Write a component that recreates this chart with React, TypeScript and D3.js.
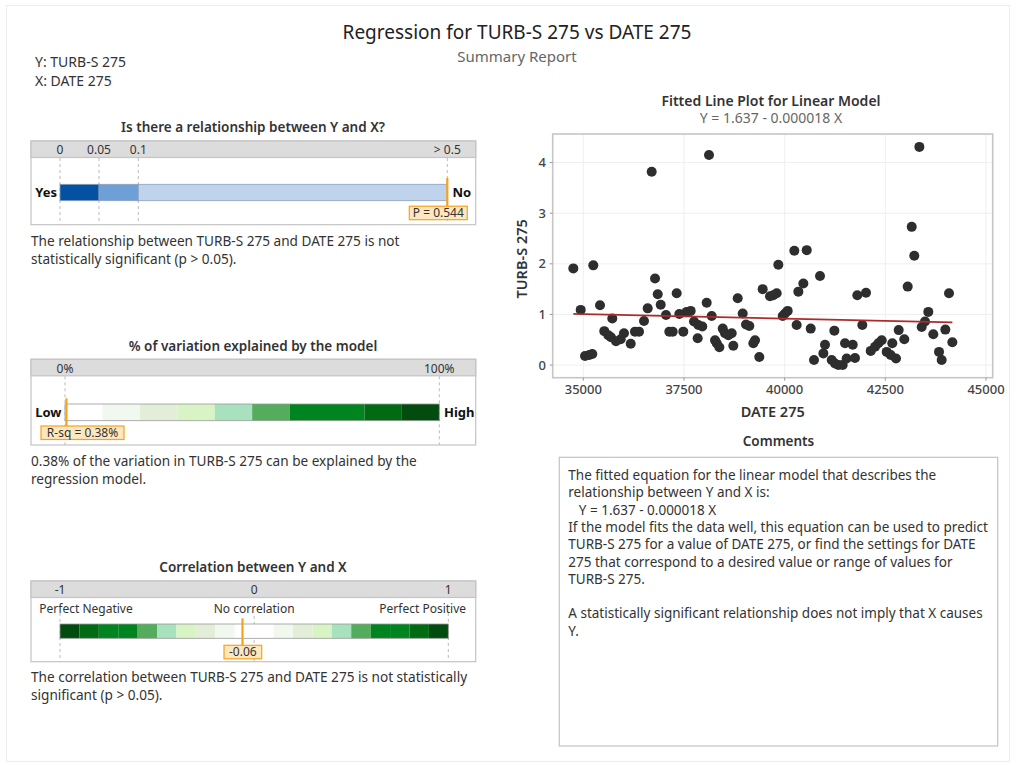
import * as d3 from "d3";

// ---- data ----
const dateValues = [
  34752, 34935, 35042, 35149, 35223, 35248, 35415, 35521, 35621, 35687,
  35720, 35812, 35928, 36010, 36177, 36283, 36383, 36507, 36599, 36698,
  36781, 36848, 36922, 37054, 37136, 37219, 37319, 37384, 37483, 37567,
  37666, 37749, 37840, 37856, 37955, 38064, 38121, 38188, 38271, 38313,
  38378, 38462, 38519, 38602, 38685, 38725, 38834, 38958, 39040, 39123,
  39222, 39264, 39370, 39454, 39636, 39718, 39802, 39843, 39951, 40008,
  40075, 40240, 40298, 40340, 40464, 40548, 40647, 40729, 40878, 40961,
  41002, 41168, 41234, 41250, 41333, 41441, 41499, 41540, 41690, 41747,
  41804, 41928, 42020, 42137, 42244, 42326, 42410, 42534, 42633, 42673,
  42765, 42832, 42971, 43055, 43155, 43219, 43345, 43403, 43485, 43567,
  43691, 43833, 43899, 43990, 44081, 44164,
];
const turbValues = [
  1.91, 1.09, 0.18, 0.2, 0.22, 1.97, 1.18, 0.67, 0.59, 0.55,
  0.92, 0.47, 0.51, 0.63, 0.42, 0.66, 0.66, 0.87, 1.12, 3.82,
  1.71, 1.4, 1.19, 0.99, 0.66, 0.66, 1.42, 1.01, 0.66, 1.05,
  1.07, 0.86, 0.53, 0.79, 0.76, 1.23, 4.15, 0.97, 0.49, 0.43,
  0.35, 0.72, 0.63, 0.59, 0.63, 0.38, 1.32, 1.02, 0.8, 0.77,
  0.43, 0.49, 0.16, 1.5, 1.36, 1.38, 1.42, 1.98, 0.97, 1.02,
  1.07, 2.26, 0.79, 1.45, 1.61, 2.27, 0.72, 0.1, 1.76, 0.23,
  0.4, 0.1, 0.68, 0.03, 0.0, 0.0, 0.43, 0.13, 0.4, 0.14,
  1.38, 0.79, 1.43, 0.28, 0.36, 0.43, 0.49, 0.26, 0.2, 0.43,
  0.13, 0.69, 0.51, 1.55, 2.73, 2.16, 4.31, 0.75, 0.86, 1.05,
  0.61, 0.26, 0.1, 0.7, 1.42, 0.45,
];
const intercept = 1.637;
const slope = -0.000018;

const xTicks = [35000, 37500, 40000, 42500, 45000];
const yTicks = [0, 1, 2, 3, 4];

const pTicks = [0, 0.05, 0.1, 0.5];
const pTickLabels = ["0", "0.05", "0.1", "> 0.5"];
const pValue = 0.544;

const rsqTicks = [0, 100];
const rsqTickLabels = ["0%", "100%"];
const rsqValue = 0.38;

const corrTicks = [-1, 0, 1];
const corrTickLabels = ["-1", "0", "1"];
const corrSubLabels = ["Perfect Negative", "No correlation", "Perfect Positive"];
const corrValue = -0.06;

const pBandColors = ["#0450a2", "#6e9fd7", "#bfd3ec"];
const greenBands = ["#ffffff", "#f1f8ef", "#e2eed8", "#d8f4c4", "#a7e1bd", "#53ad5d", "#00841f", "#00841f", "#006b13", "#014c0e"];

const commentLines = [
  "The fitted equation for the linear model that describes the",
  "relationship between Y and X is:",
  "   Y = 1.637 - 0.000018 X",
  "If the model fits the data well, this equation can be used to predict",
  "TURB-S 275 for a value of DATE 275, or find the settings for DATE",
  "275 that correspond to a desired value or range of values for",
  "TURB-S 275.",
  "",
  "A statistically significant relationship does not imply that X causes",
  "Y.",
];

const FONT = "'Noto Sans', 'Open Sans', sans-serif";
const TEXT = "#333333";
const ORANGE = "#f5a31c";
const ORANGE_FILL = "#fde7bf";

function fmt(v: number) {
  return d3.format("d")(v);
}

function Frame({ y, h }: { y: number; h: number }) {
  return (
    <g>
      <rect x={31} y={y} width={444.7} height={h} fill="#fff" stroke="#c4c4c4" strokeWidth={1.2} />
      <rect x={31} y={y} width={444.7} height={16.5} fill="#dcdcdc" stroke="#c4c4c4" strokeWidth={1.2} />
    </g>
  );
}

function Marker({ x, y1, y2, label, bx, bw, by }: { x: number; y1: number; y2: number; label: string; bx: number; bw: number; by: number }) {
  return (
    <g>
      <line x1={x} x2={x} y1={y1} y2={y2} stroke={ORANGE} strokeWidth={2.2} />
      <rect x={bx} y={by} width={bw} height={13.5} fill={ORANGE_FILL} stroke={ORANGE} strokeWidth={1.2} />
      <text x={bx + bw / 2} y={by + 11} textAnchor="middle" fontSize={12} fill={TEXT}>{label}</text>
    </g>
  );
}

function PPanel() {
  const x = d3.scaleLinear().domain(pTicks).range([60, 99, 138.3, 447.3]).clamp(true);
  const top = 141;
  return (
    <g>
      <text x={253} y={132} textAnchor="middle" fontSize={13.5} fontWeight={600} fill={TEXT}>Is there a relationship between Y and X?</text>
      <Frame y={top} h={83.7} />
      {pTicks.map((t, i) => (
        <g key={t}>
          <text x={x(t)} y={154} textAnchor="middle" fontSize={12} fill={TEXT}>{pTickLabels[i]}</text>
          <line x1={x(t)} x2={x(t)} y1={top + 17} y2={224} stroke="#bbb" strokeDasharray="3,3" />
        </g>
      ))}
      {pBandColors.map((c, i) => (
        <rect key={c} x={x(pTicks[i])} y={184.3} width={x(pTicks[i + 1]) - x(pTicks[i])} height={16.4} fill={c} stroke="#8aa0bb" strokeWidth={0.8} />
      ))}
      <text x={57} y={196.5} textAnchor="end" fontSize={13} fontWeight={700} fill="#111">Yes</text>
      <text x={452.5} y={196.5} fontSize={13} fontWeight={700} fill="#111">No</text>
      <Marker x={x(pValue)} y1={178} y2={206.7} label={`P = ${pValue}`} bx={409.3} bw={58} by={206.2} />
      <text x={31} y={246} fontSize={13.6} fill={TEXT}>The relationship between TURB-S 275 and DATE 275 is not</text>
      <text x={31} y={264} fontSize={13.6} fill={TEXT}>statistically significant (p &gt; 0.05).</text>
    </g>
  );
}

function RsqPanel() {
  const x = d3.scaleLinear().domain([0, 100]).range([65, 439.3]);
  const top = 359.3;
  const step = 100 / greenBands.length;
  return (
    <g>
      <text x={253} y={351} textAnchor="middle" fontSize={13.5} fontWeight={600} fill={TEXT}>% of variation explained by the model</text>
      <Frame y={top} h={85.7} />
      {rsqTicks.map((t, i) => (
        <g key={t}>
          <text x={x(t)} y={373} textAnchor="middle" fontSize={12} fill={TEXT}>{rsqTickLabels[i]}</text>
          <line x1={x(t)} x2={x(t)} y1={top + 17} y2={445} stroke="#bbb" strokeDasharray="3,3" />
        </g>
      ))}
      {greenBands.map((c, i) => (
        <rect key={i} x={x(i * step)} y={404} width={x(step) - x(0)} height={16.7} fill={c} />
      ))}
      <rect x={x(0)} y={404} width={x(100) - x(0)} height={16.7} fill="none" stroke="#9a9a9a" strokeWidth={0.8} />
      <text x={61.5} y={416.5} textAnchor="end" fontSize={13} fontWeight={700} fill="#111">Low</text>
      <text x={444} y={416.5} fontSize={13} fontWeight={700} fill="#111">High</text>
      <Marker x={x(rsqValue)} y1={398.3} y2={426.5} label={`R-sq = ${rsqValue}%`} bx={41} bw={83} by={426} />
      <text x={31} y={466} fontSize={13.6} fill={TEXT}>0.38% of the variation in TURB-S 275 can be explained by the</text>
      <text x={31} y={484} fontSize={13.6} fill={TEXT}>regression model.</text>
    </g>
  );
}

function CorrPanel() {
  const x = d3.scaleLinear().domain([-1, 1]).range([60, 448.3]);
  const top = 581;
  const bands = [...greenBands.slice().reverse(), ...greenBands];
  const step = 2 / bands.length;
  const subX = [86, 254.2, 422.7];
  return (
    <g>
      <text x={253} y={572} textAnchor="middle" fontSize={13.5} fontWeight={600} fill={TEXT}>Correlation between Y and X</text>
      <Frame y={top} h={80.7} />
      {corrTicks.map((t, i) => (
        <g key={t}>
          <text x={x(t)} y={594} textAnchor="middle" fontSize={12} fill={TEXT}>{corrTickLabels[i]}</text>
          <line x1={x(t)} x2={x(t)} y1={i === 1 ? 616 : 613} y2={661.7} stroke="#bbb" strokeDasharray="3,3" />
          <text x={subX[i]} y={612.5} textAnchor="middle" fontSize={12} fill={TEXT}>{corrSubLabels[i]}</text>
        </g>
      ))}
      {bands.map((c, i) => (
        <rect key={i} x={x(-1 + i * step)} y={624} width={x(step) - x(0)} height={14.3} fill={c} />
      ))}
      <rect x={x(-1)} y={624} width={x(1) - x(-1)} height={14.3} fill="none" stroke="#9a9a9a" strokeWidth={0.8} />
      <Marker x={x(corrValue)} y1={618.3} y2={645.5} label={`${corrValue}`} bx={224} bw={37.7} by={645.3} />
      <text x={31} y={682} fontSize={13.6} fill={TEXT}>The correlation between TURB-S 275 and DATE 275 is not statistically</text>
      <text x={31} y={700} fontSize={13.6} fill={TEXT}>significant (p &gt; 0.05).</text>
    </g>
  );
}

function Scatter() {
  const left = 552.7, right = 992.7, top = 134, bottom = 377.7;
  const x = d3.scaleLinear().domain([34240, 45166]).range([left, right]);
  const y = d3.scaleLinear().domain([-0.25, 4.565]).range([bottom, top]);
  const xMin = d3.min(dateValues) ?? 0;
  const xMax = d3.max(dateValues) ?? 0;
  const fit = d3
    .line<number>()
    .x((d) => x(d))
    .y((d) => y(intercept + slope * d));
  return (
    <g>
      <text x={771} y={106} textAnchor="middle" fontSize={14} fontWeight={600} fill={TEXT}>Fitted Line Plot for Linear Model</text>
      <text x={771} y={123} textAnchor="middle" fontSize={14} fill="#666">Y = 1.637 - 0.000018 X</text>
      <rect x={left} y={top} width={right - left} height={bottom - top} fill="#fff" />
      {xTicks.map((t) => (
        <line key={t} x1={x(t)} x2={x(t)} y1={top} y2={bottom} stroke="#efefef" strokeWidth={1} />
      ))}
      {yTicks.map((t) => (
        <line key={t} x1={left} x2={right} y1={y(t)} y2={y(t)} stroke="#efefef" strokeWidth={1} />
      ))}
      <rect x={left} y={top} width={right - left} height={bottom - top} fill="none" stroke="#c6c6c6" strokeWidth={1.6} />
      {xTicks.map((t) => (
        <g key={t}>
          <line x1={x(t)} x2={x(t)} y1={bottom} y2={bottom + 3} stroke="#999" />
          <text x={x(t)} y={394} textAnchor="middle" fontSize={13} fontWeight={500} fill="#444">{fmt(t)}</text>
        </g>
      ))}
      {yTicks.map((t) => (
        <g key={t}>
          <line x1={left - 3} x2={left} y1={y(t)} y2={y(t)} stroke="#999" />
          <text x={546} y={y(t) + 4.5} textAnchor="end" fontSize={13} fontWeight={500} fill="#444">{t}</text>
        </g>
      ))}
      <text transform={`translate(527,${(top + bottom) / 2 + 3}) rotate(-90)`} textAnchor="middle" fontSize={14.5} fontWeight={600} fill={TEXT}>TURB-S 275</text>
      <text x={(left + right) / 2} y={416.5} textAnchor="middle" fontSize={14.5} fontWeight={600} fill={TEXT}>DATE 275</text>
      {dateValues.map((d, i) => (
        <circle key={i} cx={x(d)} cy={y(turbValues[i])} r={5} fill="#2e2e2e" />
      ))}
      <path d={fit([xMin, xMax]) ?? ""} stroke="#b02a2a" strokeWidth={1.8} fill="none" />
    </g>
  );
}

function Comments() {
  return (
    <g>
      <text x={778.5} y={446} textAnchor="middle" fontSize={13.5} fontWeight={600} fill={TEXT}>Comments</text>
      <rect x={559.3} y={457.3} width={438.4} height={288.7} fill="#fff" stroke="#c4c4c4" strokeWidth={1.2} />
      {commentLines.map((l, i) => (
        <text key={i} x={568.3} y={480 + i * 17.3} fontSize={13.5} fill={TEXT} style={{ whiteSpace: "pre" }}>{l}</text>
      ))}
    </g>
  );
}

export default function App() {
  return (
    <svg
      width={1016}
      height={766}
      style={{ position: "absolute", left: 0, top: 0, background: "#fff" }}
      fontFamily={FONT}
    >
      <rect x={6.5} y={5.5} width={1003} height={756} fill="#fff" stroke="#ececec" />
      <text x={517} y={39} textAnchor="middle" fontSize={19} fill="#222">Regression for TURB-S 275 vs DATE 275</text>
      <text x={517} y={62} textAnchor="middle" fontSize={15} fill="#666">Summary Report</text>
      <text x={35} y={67} fontSize={14} fill={TEXT}>Y: TURB-S 275</text>
      <text x={35} y={86} fontSize={14} fill={TEXT}>X: DATE 275</text>
      <PPanel />
      <RsqPanel />
      <CorrPanel />
      <Scatter />
      <Comments />
    </svg>
  );
}
